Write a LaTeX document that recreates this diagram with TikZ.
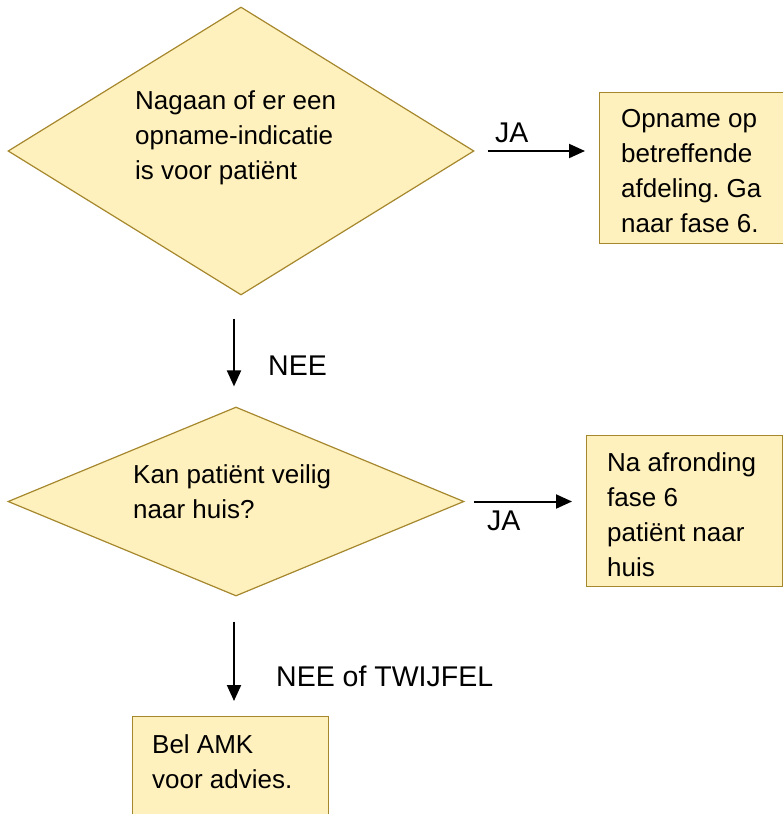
\documentclass[tikz,border=0pt]{standalone}
\usepackage{fontspec}
\setmainfont{Liberation Sans}
\frenchspacing
\usetikzlibrary{arrows.meta,shapes.geometric}
\definecolor{boxfill}{RGB}{255,241,190}
\definecolor{boxline}{RGB}{165,135,45}
\begin{document}
\begin{tikzpicture}[x=1pt,y=-1pt,
  shapebox/.style={fill=boxfill,draw=boxline,line width=1.2pt,inner sep=0pt},
  boxtext/.style={anchor=base west,inner sep=0pt,align=left,font=\fontsize{26}{35}\selectfont},
  lbl/.style={anchor=base west,inner sep=0pt,font=\fontsize{28.5}{34}\selectfont},
  arr/.style={-{Triangle[length=16pt,width=14pt]},line width=2pt}]
\useasboundingbox (0,0) rectangle (783,814);
% shapes
\node[shapebox,diamond,minimum width=466pt,minimum height=288pt] (d1) at (241,151) {};
\node[shapebox,diamond,minimum width=456pt,minimum height=189pt] (d2) at (236,501.5) {};
\node[shapebox,rectangle,anchor=north west,minimum width=186pt,minimum height=151pt] (b1) at (599,92) {};
\node[shapebox,rectangle,anchor=north west,minimum width=196pt,minimum height=151pt] (b2) at (586,435) {};
\node[shapebox,rectangle,anchor=north west,minimum width=196pt,minimum height=110pt] (b3) at (132,716) {};
% texts (anchored at the baseline of the last line)
\node[boxtext] (t1) at (135,179) {Nagaan of er een\\opname-indicatie\\is voor patiënt};
\node[boxtext] (t2) at (621,232) {Opname op\\betreffende\\afdeling. Ga\\naar fase 6.};
\node[boxtext] (t3) at (133,518) {Kan patiënt veilig\\naar huis?};
\node[boxtext] (t4) at (607,576) {Na afronding\\fase 6\\patiënt naar\\huis};
\node[boxtext] (t5) at (152,788) {Bel AMK\\voor advies.};
% labels
\node[lbl] (l1) at (495,142) {JA};
\node[lbl] (l2) at (487,530) {JA};
\node[lbl] (l3) at (268,375) {NEE};
\node[lbl] (l4) at (276,686) {NEE of TWIJFEL};
% connectors
\draw[arr] ([xshift=13pt]d1.east) -- ([xshift=-14pt]b1.west |- d1.east);
\draw[arr] ([xshift=9pt]d2.east) -- ([xshift=-14pt]b2.west |- d2.east);
\draw[arr] ([xshift=-2pt,yshift=-23pt]d2.north |- d1.south) -- ([xshift=-2pt,yshift=20pt]d2.north);
\draw[arr] ([xshift=-2pt,yshift=-25pt]d2.south) -- ([xshift=-2pt,yshift=15pt]d2.south |- b3.north);
\end{tikzpicture}
\end{document}
